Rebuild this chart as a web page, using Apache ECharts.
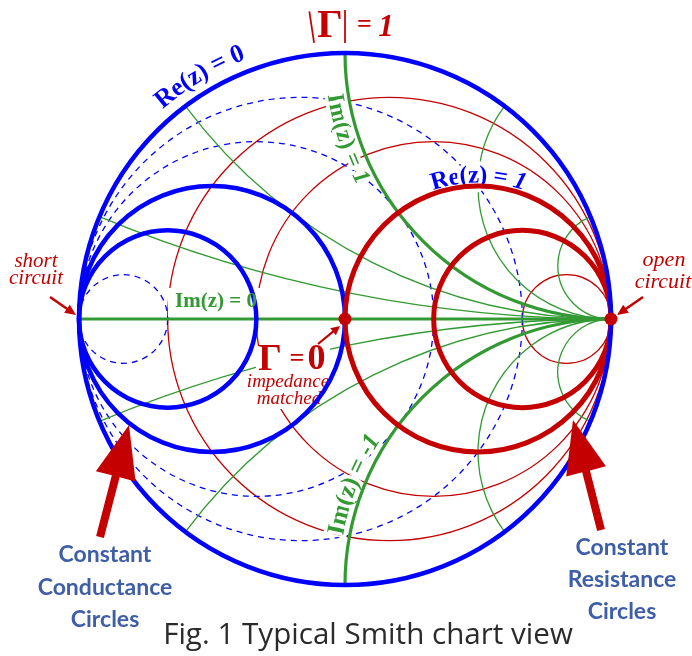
<!DOCTYPE html>
<html><head><meta charset="utf-8">
<script src="https://cdn.jsdelivr.net/npm/echarts@6/dist/echarts.min.js"></script>
<style>html,body{margin:0;padding:0;background:#fff}#c{width:692px;height:656px}</style>
</head><body><div id="c"></div>
<script>
// ---- Smith chart values ----
const resistanceOuter = [0];            // Re(z) = 0  (|Γ| = 1)
const resistanceThick = [1, 2];
const resistanceThin = [0.2, 0.5, 5];
const conductanceThick = [1, 2];
const conductanceDashed = [0.2, 0.5, 5];
const reactanceThick = [0, 1, -1];
const reactanceThin = [0.2, 0.5, 2, 5, -0.2, -0.5, -2, -5];
const markedPoints = [[0, 0], [1, 0]];  // Γ = 0 (matched), Γ = 1 (open circuit)

const BLUE = '#0000ff', RED = '#c40000', GREEN = '#339933', NOTE = '#3f5ea8', CAPTION = '#2b2b2b';
const SERIF = '"Liberation Serif"';

function st(color, w, dash) { return { fill: 'none', stroke: color, lineWidth: w, lineDash: dash || null }; }

function resistanceCircle(R, api, style) {
  const c = api.coord([R / (1 + R), 0]);
  const r = api.size([1 / (1 + R), 0])[0];
  return { type: 'circle', shape: { cx: c[0], cy: c[1], r: r }, style: style };
}
function conductanceCircle(G, api, style) {
  const c = api.coord([-G / (1 + G), 0]);
  const r = api.size([1 / (1 + G), 0])[0];
  return { type: 'circle', shape: { cx: c[0], cy: c[1], r: r }, style: style };
}
function reactanceArc(X, api, style) {
  if (X === 0) {
    const a = api.coord([-1, 0]), b = api.coord([1, 0]);
    return { type: 'line', shape: { x1: a[0], y1: a[1], x2: b[0], y2: b[1] }, style: style };
  }
  const cx = 1, cy = 1 / X, r = Math.abs(1 / X);
  const px = (X * X - 1) / (X * X + 1), py = 2 * X / (X * X + 1);
  let tp = Math.atan2(py - cy, px - cx);
  if (tp < 0) tp += 2 * Math.PI;
  let a0, a1;
  if (X > 0) { a0 = tp; a1 = 1.5 * Math.PI; } else { a0 = 0.5 * Math.PI; a1 = tp; }
  const c = api.coord([cx, cy]);
  const rp = api.size([r, 0])[0];
  return { type: 'arc', shape: { cx: c[0], cy: c[1], r: rp, startAngle: -a1, endAngle: -a0, clockwise: true }, style: style };
}
function customSeries(values, builder, style, z) {
  return {
    type: 'custom', coordinateSystem: 'cartesian2d', z: z, silent: true, clip: false,
    data: values.map(v => [v, 0]),
    renderItem: (params, api) => builder(api.value(0), api, style)
  };
}

// ---- text helpers ----
const mctx = document.createElement('canvas').getContext('2d');
function haloStyle(style, w) {
  style.stroke = '#fff'; style.lineWidth = w; style.strokeFirst = true; style.lineJoin = 'round';
  return style;
}
function arcText(chars, cx, cy, R, thetaDeg, dir, color, z, halo) {
  const thetaC = thetaDeg * Math.PI / 180;
  const widths = chars.map(([ch, f]) => { mctx.font = f; return mctx.measureText(ch).width; });
  const W = widths.reduce((a, b) => a + b, 0);
  let s = -W / 2; const els = [];
  chars.forEach(([ch, f], i) => {
    const mid = s + widths[i] / 2; s += widths[i];
    if (ch === ' ') return;
    const th = thetaC + dir * mid / R;
    const x = cx + R * Math.cos(th), y = cy + R * Math.sin(th);
    const rot = dir > 0 ? -(th + Math.PI / 2) : -(th - Math.PI / 2);
    const style = { text: ch, font: f, fill: color, align: 'center', verticalAlign: 'middle' };
    if (halo) haloStyle(style, 7);
    els.push({ type: 'text', x: x, y: y, rotation: rot, z: z, silent: true, style: style });
  });
  return els;
}
function splitChars(str, font, italicLastFont) {
  const arr = Array.from(str).map(ch => [ch, font]);
  if (italicLastFont) arr[arr.length - 1][1] = italicLastFont;
  return arr;
}
function txt(text, x, y, font, fill, z, halo) {
  const style = { text: text, font: font, fill: fill, align: 'center', verticalAlign: 'middle' };
  if (halo) haloStyle(style, halo);
  return { type: 'text', x: x, y: y, z: z, silent: true, style: style };
}
function arrow(x1, y1, x2, y2, shaftW, headL, headW, color, z) {
  const dx = x2 - x1, dy = y2 - y1, L = Math.hypot(dx, dy), ux = dx / L, uy = dy / L, nx = -uy, ny = ux;
  const bx = x2 - ux * headL, by = y2 - uy * headL;
  const pts = [
    [x1 + nx * shaftW / 2, y1 + ny * shaftW / 2], [bx + nx * shaftW / 2, by + ny * shaftW / 2],
    [bx + nx * headW / 2, by + ny * headW / 2], [x2, y2], [bx - nx * headW / 2, by - ny * headW / 2],
    [bx - nx * shaftW / 2, by - ny * shaftW / 2], [x1 - nx * shaftW / 2, y1 - ny * shaftW / 2]];
  return { type: 'polygon', shape: { points: pts }, style: { fill: color }, z: z, silent: true };
}

// caption sized to span its width in the reference
const captionText = 'Fig. 1 Typical Smith chart view';
mctx.font = '26px "Open Sans"';
const capSize = Math.max(22, Math.min(30, 26 * 410 / mctx.measureText(captionText).width));

const chart = echarts.init(document.getElementById('c'), null, { renderer: 'canvas', width: 692, height: 656 });

const b26 = 'bold 26px ' + SERIF;
const b25 = 'bold 25px ' + SERIF, b25i = 'italic bold 25px ' + SERIF;
const b24 = 'bold 24px ' + SERIF, b24i = 'italic bold 24px ' + SERIF;

const graphics = [].concat(
  // white masks behind inner labels
  [{ type: 'rect', shape: { x: 168, y: 288, width: 94, height: 29 }, style: { fill: '#fff' }, z: 2, silent: true },
   { type: 'rect', shape: { x: 256, y: 346, width: 74, height: 30 }, style: { fill: '#fff' }, z: 2, silent: true },
   { type: 'rect', shape: { x: 246, y: 376, width: 66, height: 33 }, style: { fill: '#fff' }, z: 2, silent: true }],
  // Im(z) = 0
  [txt('Im(z) = 0', 216, 302, 'bold 21px ' + SERIF, GREEN, 8)],
  // Γ = 0 / impedance matched
  [txt('Γ', 270, 360, 'bold 37px ' + SERIF, RED, 3),
   txt('=', 297, 359, 'bold 26px ' + SERIF, RED, 3),
   txt('0', 316.5, 360, 'bold 36px ' + SERIF, RED, 3),
   txt('impedance', 288, 382, 'italic 19px ' + SERIF, RED, 3),
   txt('matched', 289, 399, 'italic 19px ' + SERIF, RED, 3)],
  // arc labels
  arcText(splitChars('Re(z) = 0', b26), 345.5, 319, 285, 239, 1, BLUE, 8, false),
  arcText(splitChars('Re(z) = 1', b25, b25i), 478.5, 319, 143, 270, 1, BLUE, 3, true),
  arcText(splitChars('Im(z) = 1', b24, b24i), 611, 53, 280, 162, -1, GREEN, 3, true),
  arcText(splitChars('Im(z) = -1', b25, b25i), 611, 585, 279, 201.3, 1, GREEN, 3, true),
  // |Γ| = 1
  [{ type: 'text', x: 311.5, y: 26.5, rotation: 0.15, z: 8, silent: true, style: { text: '|', font: '35px ' + SERIF, fill: RED, align: 'center', verticalAlign: 'middle' } },
   txt('Γ', 330, 27, 'bold 40px ' + SERIF, RED, 8),
   txt('|', 345, 26, '35px ' + SERIF, RED, 8),
   txt('=', 364.5, 25.5, 'bold 26px ' + SERIF, RED, 8),
   txt('1', 386, 27.5, 'italic bold 31px ' + SERIF, RED, 8)],
  // short / open circuit
  [txt('short', 36, 261, 'italic 21px ' + SERIF, RED, 8),
   txt('circuit', 36, 278, 'italic 21px ' + SERIF, RED, 8),
   txt('open', 664, 260, 'italic 22px ' + SERIF, RED, 8),
   txt('circuit', 663, 282, 'italic 22px ' + SERIF, RED, 8)],
  // arrows
  [arrow(50, 297, 76, 315, 2.5, 11, 10, RED, 8),
   arrow(643, 297, 617, 315, 2.5, 11, 10, RED, 8),
   arrow(318, 344, 340, 326, 2.2, 9, 9, RED, 8),
   arrow(100, 537, 129, 425, 8, 53, 41, RED, 8),
   arrow(601, 530, 573, 420, 8, 53, 41, RED, 8)],
  // annotations
  [txt('Constant', 105, 555, 'bold 23px Lato', NOTE, 8),
   txt('Conductance', 105, 588, 'bold 23px Lato', NOTE, 8),
   txt('Circles', 105, 620, 'bold 23px Lato', NOTE, 8),
   txt('Constant', 622, 548, 'bold 23px Lato', NOTE, 8),
   txt('Resistance', 622, 580, 'bold 23px Lato', NOTE, 8),
   txt('Circles', 622, 612, 'bold 23px Lato', NOTE, 8),
   txt(captionText, 368, 636, capSize.toFixed(1) + 'px "Open Sans"', CAPTION, 8)]
);

chart.setOption({
  animation: false,
  backgroundColor: '#fff',
  grid: { left: 79, top: 53, width: 532, height: 532, containLabel: false, outerBoundsMode: 'none' },
  xAxis: { type: 'value', min: -1, max: 1, show: false },
  yAxis: { type: 'value', min: -1, max: 1, show: false },
  series: [
    customSeries(resistanceThin, resistanceCircle, st(RED, 1.3), 1),
    customSeries(conductanceDashed, conductanceCircle, st(BLUE, 1.3, [6, 5]), 1),
    customSeries(reactanceThin, reactanceArc, st(GREEN, 1.3), 1),
    customSeries(reactanceThick, reactanceArc, st(GREEN, 3.2), 4),
    customSeries(conductanceThick, conductanceCircle, st(BLUE, 4.5), 5),
    customSeries(resistanceThick, resistanceCircle, st(RED, 5), 5),
    customSeries(resistanceOuter, resistanceCircle, st(BLUE, 4.5), 6),
    { type: 'scatter', data: markedPoints, symbol: 'circle', symbolSize: 13, itemStyle: { color: RED, opacity: 1 }, z: 7, silent: true }
  ],
  graphic: { elements: graphics }
});
</script></body></html>
